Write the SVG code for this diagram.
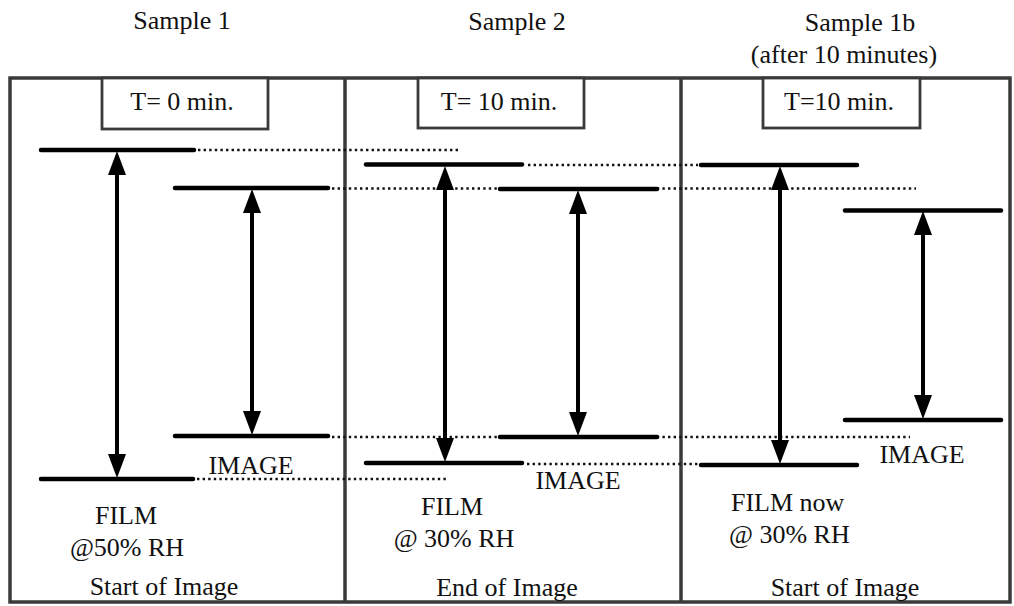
<svg xmlns="http://www.w3.org/2000/svg" width="1014" height="606" viewBox="0 0 1014 606">
<style>
  .t { font-family: "Liberation Serif", "Times New Roman", serif; font-size: 26px; fill: #111; }
  .m { text-anchor: middle; }
  .frame { fill: none; stroke: #3a3a3a; stroke-width: 3.5; }
  .tbox { fill: #fff; stroke: #3a3a3a; stroke-width: 2.8; }
  .lvl { stroke: #000; stroke-width: 4.5; stroke-linecap: round; }
  .dot { stroke: #111; stroke-width: 2.4; stroke-dasharray: 2.4 3.2; fill: none; }
  .arr { stroke: #000; stroke-width: 4; marker-start: url(#ah); marker-end: url(#ah); }
</style>
<defs>
  <marker id="ah" viewBox="0 0 24 18" refX="13" refY="9" markerWidth="24" markerHeight="18" markerUnits="userSpaceOnUse" orient="auto-start-reverse">
    <path d="M0,0 L24,9 L0,18 z" fill="#000"/>
  </marker>
</defs>
<rect width="1014" height="606" fill="#fff"/>

<g id="frame">
  <rect class="frame" x="10" y="78" width="1000" height="524"/>
  <line class="frame" x1="345" y1="78" x2="345" y2="602"/>
  <line class="frame" x1="681" y1="78" x2="681" y2="602"/>
</g>

<g id="connectors">
  <line class="dot" x1="198" y1="150" x2="460" y2="150"/>
  <line class="dot" x1="332" y1="188.5" x2="916" y2="188.5"/>
  <line class="dot" x1="528" y1="165" x2="698" y2="165"/>
  <line class="dot" x1="332" y1="437" x2="910" y2="437"/>
  <line class="dot" x1="527" y1="464" x2="698" y2="464"/>
  <line class="dot" x1="197" y1="479" x2="446" y2="479"/>
</g>

<g id="sample1">
  <text class="t m" x="182" y="29">Sample 1</text>
  <rect class="tbox" x="102" y="78" width="166" height="51"/>
  <text class="t m" x="182" y="110">T= 0 min.</text>
  <line class="lvl" x1="41" y1="150" x2="194" y2="150"/>
  <line class="lvl" x1="175" y1="188" x2="328" y2="188"/>
  <line class="lvl" x1="175" y1="436" x2="328" y2="436"/>
  <line class="lvl" x1="41" y1="479" x2="193" y2="479"/>
  <line class="arr" x1="117" y1="162" x2="117" y2="467"/>
  <line class="arr" x1="252" y1="200" x2="252" y2="424"/>
  <text class="t m" x="251" y="474">IMAGE</text>
  <text class="t m" x="126" y="524">FILM</text>
  <text class="t m" x="127" y="556">@50% RH</text>
  <text class="t m" x="164" y="595">Start of Image</text>
</g>

<g id="sample2">
  <text class="t m" x="517" y="30">Sample 2</text>
  <rect class="tbox" x="418" y="78" width="166" height="50"/>
  <text class="t m" x="499" y="110">T= 10 min.</text>
  <line class="lvl" x1="366" y1="164.5" x2="522" y2="164.5"/>
  <line class="lvl" x1="500" y1="189" x2="657" y2="189"/>
  <line class="lvl" x1="500" y1="437" x2="657" y2="437"/>
  <line class="lvl" x1="366" y1="463" x2="522" y2="463"/>
  <line class="arr" x1="445" y1="177" x2="445" y2="451"/>
  <line class="arr" x1="578" y1="201" x2="578" y2="425"/>
  <text class="t m" x="578" y="489">IMAGE</text>
  <text class="t m" x="452" y="515">FILM</text>
  <text class="t m" x="454" y="547">@ 30% RH</text>
  <text class="t m" x="507" y="596">End of Image</text>
</g>

<g id="sample1b">
  <text class="t m" x="860" y="31">Sample 1b</text>
  <text class="t m" x="844" y="63">(after 10 minutes)</text>
  <rect class="tbox" x="763" y="78" width="157" height="50"/>
  <text class="t m" x="839" y="110">T=10 min.</text>
  <line class="lvl" x1="701" y1="165" x2="857" y2="165"/>
  <line class="lvl" x1="845" y1="210.5" x2="1001" y2="210.5"/>
  <line class="lvl" x1="845" y1="420" x2="1001" y2="420"/>
  <line class="lvl" x1="701" y1="465" x2="857" y2="465"/>
  <line class="arr" x1="780" y1="177" x2="780" y2="453"/>
  <line class="arr" x1="923" y1="222" x2="923" y2="408"/>
  <text class="t m" x="922" y="463">IMAGE</text>
  <text class="t" x="731" y="511">FILM now</text>
  <text class="t" x="729" y="543">@ 30% RH</text>
  <text class="t m" x="845" y="596">Start of Image</text>
</g>
</svg>
